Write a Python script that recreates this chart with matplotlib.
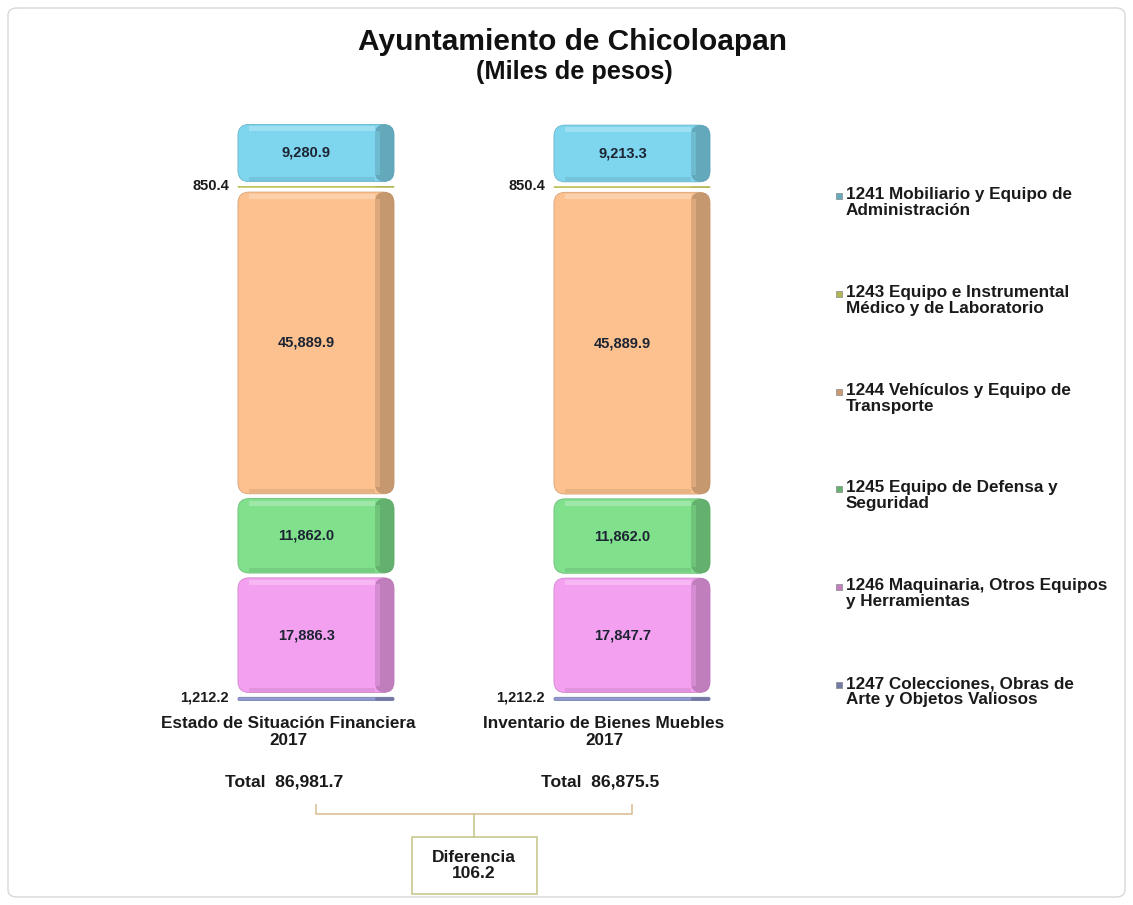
import matplotlib
matplotlib.use("Agg")
import matplotlib.pyplot as plt
from matplotlib.patches import FancyBboxPatch, Rectangle
from matplotlib.lines import Line2D
import matplotlib.colors as mcolors

plt.rcParams['font.family'] = ['Liberation Sans', 'DejaVu Sans']
plt.rcParams['font.weight'] = 'bold'

categories = ["Estado de Situación Financiera\n2017", "Inventario de Bienes Muebles\n2017"]
series = ["1241 Mobiliario y Equipo de\nAdministración",
          "1243 Equipo e Instrumental\nMédico y de Laboratorio",
          "1244 Vehículos y Equipo de\nTransporte",
          "1245 Equipo de Defensa y\nSeguridad",
          "1246 Maquinaria, Otros Equipos\ny Herramientas",
          "1247 Colecciones, Obras de\nArte y Objetos Valiosos"]
# values per series, [estado, inventario]
v1241 = [9280.9, 9213.3]
v1243 = [850.4, 850.4]
v1244 = [45889.9, 45889.9]
v1245 = [11862.0, 11862.0]
v1246 = [17886.3, 17847.7]
v1247 = [1212.2, 1212.2]
colors = ['#7ed5ee', '#dfe46a', '#fcc18e', '#80e08c', '#f4a0f0', '#9198d0']

W, H = 1133, 905
fig = plt.figure(figsize=(W/100, H/100), dpi=100)
fig.patches.append(FancyBboxPatch((8/W, 8/H), 1117/W, 889/H, boxstyle="round,pad=0,rounding_size=0.008",
                                  transform=fig.transFigure, fc='none', ec='#d8d8d8', lw=1, zorder=-5))

ax = fig.add_axes([0, (H-703)/H, 1, 581/H])
ax.set_xlim(-316/316, (W-316)/316)
ax.set_ylim(0, sum(v[0] for v in [v1241, v1243, v1244, v1245, v1246, v1247]))
ax.axis('off')

# stack from bottom
stack = [v1247, v1246, v1245, v1244, v1243, v1241]
stack_colors = colors[::-1]
width = 0.494

p0, p1 = ax.transData.transform([(0, 0), (1, 1)])
xpx = p1[0] - p0[0]
ypx = p1[1] - p0[1]
aspect = (1/ypx) / (1/xpx)
sw = 19/xpx


def shade(c, f):
	r, g, b = mcolors.to_rgb(c)
	return (r*f, g*f, b*f)


def draw_seg(x, y0, h, col):
	gap = 2.4/ypx
	hh = max(h - 2*gap, 0.5/ypx)
	yy = y0 + gap
	hpx = hh*ypx
	r = min(11, hpx/2)/xpx
	ax.add_patch(FancyBboxPatch((x - width/2, yy), width, hh,
		boxstyle="round,pad=0,rounding_size=%f" % r, mutation_aspect=aspect,
		fc=col, ec=shade(col, 0.85), lw=0.6))
	# darker side face, lighter toward the front edge
	ax.add_patch(FancyBboxPatch((x + width/2 - sw, yy), sw, hh,
		boxstyle="round,pad=0,rounding_size=%f" % min(r, sw/2), mutation_aspect=aspect,
		fc=shade(col, 0.75), ec='none', alpha=0.85))
	if hpx > 14:
		ax.add_patch(Rectangle((x + width/2 - sw, yy + r*aspect*0.6), 5/xpx, hh - 1.2*r*aspect,
			fc=shade(col, 0.9), ec='none', alpha=0.8))
		ax.add_patch(Rectangle((x - width/2 + r, yy + hh - 7/ypx), width - sw - r, 5/ypx,
			fc='white', ec='none', alpha=0.25))
		ax.add_patch(Rectangle((x - width/2 + r, yy + 1/ypx), width - sw - r, 4/ypx,
			fc=shade(col, 0.85), ec='none', alpha=0.5))


for i in range(len(categories)):
	bottom = 0
	for vals, col in zip(stack, stack_colors):
		v = vals[i]
		draw_seg(i, bottom, v, col)
		lab = format(v, ',.1f')
		if v < 2000:
			ax.text(i - width/2 - 9/xpx, bottom + v/2 + 1/ypx, lab, ha='right', va='center',
				fontsize=10.5, color='#1a1a1a')
		else:
			ax.text(i - sw/2, bottom + v/2, lab, ha='center', va='center', fontsize=10.5,
				color='#1c2433')
		bottom += v
	ax.text(i - 28/xpx, -29/ypx, categories[i], ha='center', va='center', fontsize=12.3, color='#1a1a1a',
		linespacing=1.12, clip_on=False)

totals = [sum(vals[i] for vals in stack) for i in range(len(categories))]
for i, t in enumerate(totals):
	ax.text(i - 32/xpx, -79/ypx, "Total  " + format(t, ',.1f'), ha='center', va='center',
		fontsize=12.6, color='#1a1a1a', clip_on=False)

# bracket between totals
yb = -111/ypx
lc = '#dcc096'
ax.add_line(Line2D([0, 0, 1, 1], [yb + 9/ypx, yb, yb, yb + 9/ypx], color=lc, lw=1.2, clip_on=False))
ax.add_line(Line2D([0.5, 0.5], [yb, yb - 23/ypx], color='#c8c890', lw=1.2, clip_on=False))
bw, bh = 125/xpx, 57/ypx
ax.add_patch(Rectangle((0.5 - bw/2, yb - 23/ypx - bh), bw, bh, fc='white', ec='#c8c890', lw=1.2,
	clip_on=False))
ax.text(0.5, yb - 23/ypx - bh/2, "Diferencia\n" + format(totals[0] - totals[1], ',.1f'), ha='center',
	va='center', fontsize=12.5, color='#1a1a1a', linespacing=1.1, clip_on=False)

fig.text(573/W, 1 - 42/H, "Ayuntamiento de Chicoloapan", ha='center', va='center', fontsize=21.5, color='#111111')
fig.text(574/W, 1 - 72/H, "(Miles de pesos)", ha='center', va='center', fontsize=18.3, color='#111111')

# legend on the right
ly = [196, 294, 392, 489, 587, 685]
for lab, col, y in zip(series, colors, ly):
	fig.patches.append(Rectangle((836/W, 1 - (y + 3)/H), 6/W, 6/H, transform=fig.transFigure,
		fc=shade(col, 0.8), ec='#888888', lw=0.5))
	fig.text(846/W, 1 - (y - 9)/H, lab, ha='left', va='top', fontsize=12.3, color='#1a1a1a', linespacing=1.12)

fig.savefig("out.png", dpi=100)
